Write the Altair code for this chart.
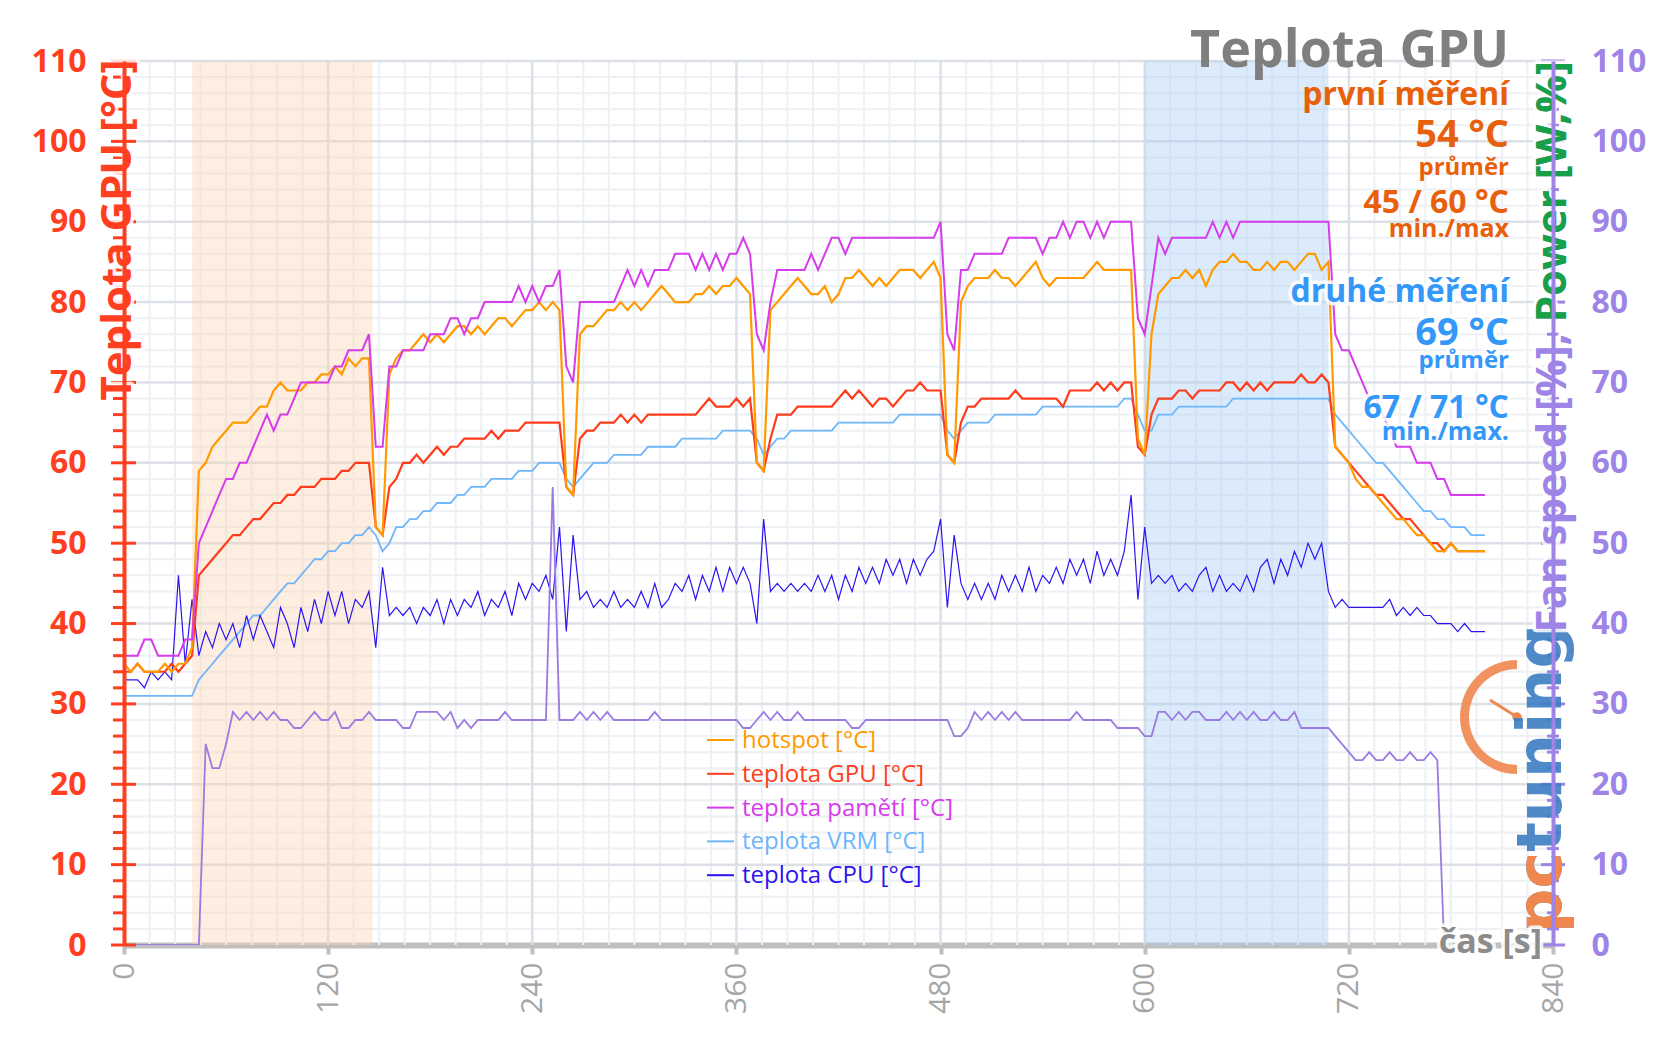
import altair as alt
import pandas as pd

W, H = 1429, 884
FONT = "Open Sans"

# ---------------- data (sampled every 4 s) ----------------
hotspot = [
    35, 34, 35, 34, 34, 34, 35, 34, 35, 35,
    37, 59, 60, 62, 63, 64, 65, 65, 65, 66,
    67, 67, 69, 70, 69, 69, 69, 70, 70, 71,
    71, 72, 71, 73, 72, 73, 73, 52, 51, 71,
    73, 74, 74, 75, 76, 75, 76, 75, 76, 77,
    77, 76, 77, 76, 77, 78, 78, 77, 78, 79,
    79, 80, 79, 80, 79, 57, 56, 76, 77, 77,
    78, 79, 79, 80, 79, 80, 79, 80, 81, 82,
    81, 80, 80, 80, 81, 81, 82, 81, 82, 82,
    83, 82, 81, 60, 59, 79, 80, 81, 82, 83,
    82, 81, 81, 82, 80, 81, 83, 83, 84, 83,
    82, 83, 82, 83, 84, 84, 84, 83, 84, 85,
    83, 61, 60, 80, 82, 83, 83, 83, 84, 83,
    83, 82, 83, 84, 85, 83, 82, 83, 83, 83,
    83, 83, 84, 85, 84, 84, 84, 84, 84, 63,
    61, 76, 81, 82, 83, 83, 84, 83, 84, 82,
    84, 85, 85, 86, 85, 85, 84, 84, 85, 84,
    85, 85, 84, 85, 86, 86, 84, 85, 62, 61,
    60, 58, 57, 57, 56, 55, 54, 53, 53, 52,
    51, 51, 50, 49, 49, 50, 49, 49, 49, 49,
    49,
]
gpu = [
    34, 34, 35, 34, 34, 34, 34, 35, 34, 35,
    36, 46, 47, 48, 49, 50, 51, 51, 52, 53,
    53, 54, 55, 55, 56, 56, 57, 57, 57, 58,
    58, 58, 59, 59, 60, 60, 60, 52, 51, 57,
    58, 60, 60, 61, 60, 61, 62, 61, 62, 62,
    63, 63, 63, 63, 64, 63, 64, 64, 64, 65,
    65, 65, 65, 65, 65, 57, 56, 63, 64, 64,
    65, 65, 65, 66, 65, 66, 65, 66, 66, 66,
    66, 66, 66, 66, 66, 67, 68, 67, 67, 67,
    68, 67, 68, 60, 59, 63, 66, 66, 66, 67,
    67, 67, 67, 67, 67, 68, 69, 68, 69, 68,
    67, 68, 68, 67, 68, 69, 69, 70, 69, 69,
    69, 61, 60, 65, 67, 67, 68, 68, 68, 68,
    68, 69, 68, 68, 68, 68, 68, 68, 67, 69,
    69, 69, 69, 70, 69, 70, 69, 70, 70, 62,
    61, 66, 68, 68, 68, 69, 69, 68, 69, 69,
    69, 69, 70, 70, 69, 70, 69, 70, 69, 70,
    70, 70, 70, 71, 70, 70, 71, 70, 62, 61,
    60, 59, 58, 57, 56, 56, 55, 54, 53, 53,
    52, 51, 50, 50, 49, 50, 49, 49, 49, 49,
    49,
]
memory = [
    36, 36, 36, 38, 38, 36, 36, 36, 36, 38,
    38, 50, 52, 54, 56, 58, 58, 60, 60, 62,
    64, 66, 64, 66, 66, 68, 70, 70, 70, 70,
    70, 72, 72, 74, 74, 74, 76, 62, 62, 72,
    72, 74, 74, 74, 74, 76, 76, 76, 78, 78,
    76, 78, 78, 80, 80, 80, 80, 80, 82, 80,
    82, 80, 82, 82, 84, 72, 70, 80, 80, 80,
    80, 80, 80, 82, 84, 82, 84, 82, 84, 84,
    84, 86, 86, 86, 84, 86, 84, 86, 84, 86,
    86, 88, 86, 76, 74, 80, 84, 84, 84, 84,
    84, 86, 84, 86, 88, 88, 86, 88, 88, 88,
    88, 88, 88, 88, 88, 88, 88, 88, 88, 88,
    90, 76, 74, 84, 84, 86, 86, 86, 86, 86,
    88, 88, 88, 88, 88, 86, 88, 88, 90, 88,
    90, 90, 88, 90, 88, 90, 90, 90, 90, 78,
    76, 82, 88, 86, 88, 88, 88, 88, 88, 88,
    90, 88, 90, 88, 90, 90, 90, 90, 90, 90,
    90, 90, 90, 90, 90, 90, 90, 90, 76, 74,
    74, 72, 70, 68, 68, 66, 64, 62, 62, 62,
    60, 60, 60, 58, 58, 56, 56, 56, 56, 56,
    56,
]
vrm = [
    31, 31, 31, 31, 31, 31, 31, 31, 31, 31,
    31, 33, 34, 35, 36, 37, 38, 39, 40, 41,
    41, 42, 43, 44, 45, 45, 46, 47, 48, 48,
    49, 49, 50, 50, 51, 51, 52, 51, 49, 50,
    52, 52, 53, 53, 54, 54, 55, 55, 55, 56,
    56, 57, 57, 57, 58, 58, 58, 58, 59, 59,
    59, 60, 60, 60, 60, 58, 57, 58, 59, 60,
    60, 60, 61, 61, 61, 61, 61, 62, 62, 62,
    62, 62, 63, 63, 63, 63, 63, 63, 64, 64,
    64, 64, 64, 63, 61, 62, 63, 63, 64, 64,
    64, 64, 64, 64, 64, 65, 65, 65, 65, 65,
    65, 65, 65, 65, 66, 66, 66, 66, 66, 66,
    66, 64, 63, 64, 65, 65, 65, 65, 66, 66,
    66, 66, 66, 66, 66, 67, 67, 67, 67, 67,
    67, 67, 67, 67, 67, 67, 67, 68, 68, 66,
    64, 64, 66, 66, 66, 67, 67, 67, 67, 67,
    67, 67, 67, 68, 68, 68, 68, 68, 68, 68,
    68, 68, 68, 68, 68, 68, 68, 68, 66, 65,
    64, 63, 62, 61, 60, 60, 59, 58, 57, 56,
    55, 54, 54, 53, 53, 52, 52, 52, 51, 51,
    51,
]
cpu = [
    33, 33, 33, 32, 34, 33, 34, 33, 46, 35,
    43, 36, 39, 37, 40, 38, 40, 37, 41, 38,
    41, 39, 37, 42, 40, 37, 42, 39, 43, 40,
    44, 41, 44, 40, 43, 42, 44, 37, 47, 41,
    42, 41, 42, 40, 42, 41, 43, 40, 43, 41,
    43, 42, 44, 41, 43, 42, 44, 41, 45, 43,
    45, 44, 46, 43, 52, 39, 51, 43, 44, 42,
    43, 42, 44, 42, 43, 42, 44, 42, 45, 42,
    43, 45, 44, 46, 43, 46, 44, 47, 44, 47,
    45, 47, 45, 40, 53, 44, 45, 44, 45, 44,
    45, 44, 46, 44, 46, 43, 46, 44, 47, 45,
    47, 45, 48, 46, 48, 45, 48, 46, 48, 49,
    53, 42, 51, 45, 43, 45, 43, 45, 43, 46,
    44, 46, 44, 47, 44, 46, 45, 47, 45, 48,
    46, 48, 45, 49, 46, 48, 46, 49, 56, 43,
    52, 45, 46, 45, 46, 44, 45, 44, 46, 47,
    44, 46, 44, 45, 44, 46, 44, 47, 48, 45,
    48, 46, 49, 47, 50, 48, 50, 44, 42, 43,
    42, 42, 42, 42, 42, 42, 43, 41, 42, 41,
    42, 41, 41, 40, 40, 40, 39, 40, 39, 39,
    39,
]
fan = [
    0, 0, 0, 0, 0, 0, 0, 0, 0, 0,
    0, 0, 25, 22, 22, 25, 29, 28, 29, 28,
    29, 28, 29, 28, 28, 27, 27, 28, 29, 28,
    28, 29, 27, 27, 28, 28, 29, 28, 28, 28,
    28, 27, 27, 29, 29, 29, 29, 28, 29, 27,
    28, 27, 28, 28, 28, 28, 29, 28, 28, 28,
    28, 28, 28, 57, 28, 28, 28, 29, 28, 29,
    28, 29, 28, 28, 28, 28, 28, 28, 29, 28,
    28, 28, 28, 28, 28, 28, 28, 28, 28, 28,
    28, 27, 27, 28, 29, 28, 29, 28, 28, 29,
    28, 28, 28, 28, 28, 28, 28, 27, 27, 28,
    28, 28, 28, 28, 28, 28, 28, 28, 28, 28,
    28, 28, 26, 26, 27, 29, 28, 29, 28, 29,
    28, 29, 28, 28, 28, 28, 28, 28, 28, 28,
    29, 28, 28, 28, 28, 28, 27, 27, 27, 27,
    26, 26, 29, 29, 28, 29, 28, 29, 29, 28,
    28, 28, 29, 28, 29, 28, 29, 28, 28, 29,
    28, 28, 29, 27, 27, 27, 27, 27, 26, 25,
    24, 23, 23, 24, 23, 23, 24, 23, 23, 24,
    23, 23, 24, 23, 0,
]
SAMPLE_STEP = 4
t_temp = [i * SAMPLE_STEP for i in range(len(hotspot))]
t_fan = [i * SAMPLE_STEP for i in range(len(fan))]

band_start = [40, 600]
band_end = [146, 708]

x_ticks = [0, 120, 240, 360, 480, 600, 720, 840]
y_ticks = [0, 10, 20, 30, 40, 50, 60, 70, 80, 90, 100, 110]

legend_names = ["hotspot [°C]", "teplota GPU [°C]", "teplota pamětí [°C]",
                "teplota VRM [°C]", "teplota CPU [°C]"]

title_text = "Teplota GPU"
run1 = ["první měření", "54 °C", "průměr", "45 / 60 °C", "min./max"]
run2 = ["druhé měření", "69 °C", "průměr", "67 / 71 °C", "min./max."]

# ---------------- styles ----------------
C_HOT = "#FF9A00"
C_GPU = "#FF3D1C"
C_MEM = "#D63CEB"
C_VRM = "#6FB6FA"
C_CPU = "#2D14F0"
C_FAN = "#9A7BE0"
AX_RED = "#FF3F1F"
AX_PURPLE = "#9E84E6"
C_GREEN = "#16A048"
C_GRAY = "#7F7F7F"
ANN_ORANGE = "#E8600C"
ANN_BLUE = "#3498F8"
legend_colors = [C_HOT, C_GPU, C_MEM, C_VRM, C_CPU]

x_scale = alt.Scale(domain=[0, 840], nice=False, zero=False)
y_scale = alt.Scale(domain=[0, 110], nice=False, zero=False)
ONE = pd.DataFrame({"k": [0]})


def line_layer(times, vals, color, width, x_axis=None, y_axis=None):
    df = pd.DataFrame({"t": times, "v": vals})
    return alt.Chart(df).mark_line(color=color, strokeWidth=width, clip=True).encode(
        x=alt.X("t:Q", scale=x_scale, axis=x_axis),
        y=alt.Y("v:Q", scale=y_scale, axis=y_axis),
    )


def text_layers(txt, x, y, size, color, weight="bold", align="right",
                baseline="alphabetic", angle=0, glow=True, font=FONT, opacity=1.0):
    kw = dict(text=txt, fontSize=size, font=font, fontWeight=weight,
              align=align, baseline=baseline, angle=angle)
    out = []
    if glow:
        out.append(alt.Chart(ONE).mark_text(color="white", stroke="white", strokeWidth=7,
                                            strokeJoin="round", strokeOpacity=0.85, **kw)
                   .encode(x=alt.value(x), y=alt.value(y)))
    out.append(alt.Chart(ONE).mark_text(color=color, opacity=opacity, **kw)
               .encode(x=alt.value(x), y=alt.value(y)))
    return out


layers = []

# grid
vminor = [s for s in range(15, 840, 15) if s % 120]
vmajor = [s for s in range(120, 840, 120)]
hminor = [v for v in range(2, 111, 2) if v % 10]
hmajor = [v for v in range(10, 111, 10)]
layers.append(alt.Chart(pd.DataFrame({"x": vminor})).mark_rule(color="#EDF0F4", strokeWidth=2)
              .encode(x=alt.X("x:Q", scale=x_scale, axis=None)))
layers.append(alt.Chart(pd.DataFrame({"y": hminor})).mark_rule(color="#EDF0F4", strokeWidth=2)
              .encode(y=alt.Y("y:Q", scale=y_scale, axis=None)))
layers.append(alt.Chart(pd.DataFrame({"x": vmajor})).mark_rule(color="#DCE0E7", strokeWidth=2.5)
              .encode(x=alt.X("x:Q", scale=x_scale, axis=None)))
layers.append(alt.Chart(pd.DataFrame({"y": hmajor})).mark_rule(color="#DCE0E7", strokeWidth=2.5)
              .encode(y=alt.Y("y:Q", scale=y_scale, axis=None)))

# shaded bands
bands = pd.DataFrame({"s": band_start, "e": band_end, "c": ["#FAD4B4", "#A8CDF5"]})
layers.append(alt.Chart(bands).mark_rect(opacity=0.4).encode(
    x=alt.X("s:Q", scale=x_scale, axis=None), x2="e:Q",
    y=alt.value(0), y2=alt.value(H),
    fill=alt.Fill("c:N", scale=None)))

# lines
x_axis = alt.Axis(values=x_ticks, labelAngle=270, labelColor="#A6A6A6", labelFontSize=30,
                  labelFont=FONT, tickColor="#BFBFBF", tickWidth=4, tickSize=9,
                  domainColor="#BFBFBF", domainWidth=6, labelPadding=8, grid=False,
                  title=None, zindex=0)
y_left = alt.Axis(values=y_ticks, orient="left", labelColor=AX_RED, labelFontSize=32,
                  labelFontWeight="bold", labelFont=FONT, ticks=False, tickSize=0,
                  domainColor=AX_RED, domainWidth=4, labelPadding=38, grid=False,
                  title=None, zindex=1)
y_right = alt.Axis(values=y_ticks, orient="right", labelColor=AX_PURPLE, labelFontSize=32,
                   labelFontWeight="bold", labelFont=FONT, ticks=False, tickSize=0,
                   domainColor=AX_PURPLE, domainWidth=4, labelPadding=38, grid=False,
                   title=None, zindex=1)

layers.append(line_layer(t_temp, vrm, C_VRM, 1.8))
layers.append(line_layer(t_temp, cpu, C_CPU, 1.2))
layers.append(line_layer(t_fan, fan, C_FAN, 1.8, y_axis=y_right))
layers.append(line_layer(t_temp, gpu, C_GPU, 2.2, y_axis=y_left))
layers.append(line_layer(t_temp, hotspot, C_HOT, 2.2, x_axis=x_axis))
layers.append(line_layer(t_temp, memory, C_MEM, 2.0))

# axis ticks (left red, right purple)
minor_y = [v for v in range(0, 111, 2) if v % 10]
layers.append(alt.Chart(pd.DataFrame({"y": y_ticks})).mark_rule(color=AX_RED, strokeWidth=3)
              .encode(y=alt.Y("y:Q", scale=y_scale, axis=None), x=alt.value(-13), x2=alt.value(12)))
layers.append(alt.Chart(pd.DataFrame({"y": minor_y})).mark_rule(color=AX_RED, strokeWidth=3)
              .encode(y=alt.Y("y:Q", scale=y_scale, axis=None), x=alt.value(-11), x2=alt.value(0)))
layers.append(alt.Chart(pd.DataFrame({"y": y_ticks})).mark_rule(color=AX_PURPLE, strokeWidth=3)
              .encode(y=alt.Y("y:Q", scale=y_scale, axis=None), x=alt.value(W - 12), x2=alt.value(W + 12)))
layers.append(alt.Chart(pd.DataFrame({"y": minor_y})).mark_rule(color=AX_PURPLE, strokeWidth=3)
              .encode(y=alt.Y("y:Q", scale=y_scale, axis=None), x=alt.value(W - 6), x2=alt.value(W + 6)))

# legend
for i, (name, col) in enumerate(zip(legend_names, legend_colors)):
    yy = 679 + 33.8 * i
    layers.append(alt.Chart(ONE).mark_rule(color=col, strokeWidth=2)
                  .encode(x=alt.value(583), x2=alt.value(610), y=alt.value(yy)))
    layers.append(alt.Chart(ONE).mark_text(text=name, color=col, fontSize=24, font=FONT,
                                           align="left", baseline="alphabetic")
                  .encode(x=alt.value(618), y=alt.value(yy + 8)))

# logo (behind the right-hand axis title)
LOGO_O = "#F0874F"
LOGO_B = "#3C7DC3"
layers.append(alt.Chart(ONE).mark_arc(color=LOGO_O, opacity=0.9).encode(
    x=alt.value(1393), y=alt.value(656), theta=alt.value(3.1416), theta2=alt.value(6.2832),
    radius=alt.value(57), radius2=alt.value(48)))
layers.append(alt.Chart(ONE).mark_rule(color=LOGO_O, strokeWidth=3).encode(
    x=alt.value(1366), x2=alt.value(1393), y=alt.value(639), y2=alt.value(656)))
layers.append(alt.Chart(ONE).mark_circle(color=LOGO_O, size=90, opacity=1).encode(
    x=alt.value(1393), y=alt.value(656)))
layers += text_layers("pctuning", 1437, 872, 62, LOGO_B, align="left", angle=270,
                      glow=False, font="DejaVu Sans", opacity=0.9)
layers += text_layers("pc", 1437, 872, 62, LOGO_O, align="left", angle=270,
                      glow=False, font="DejaVu Sans", opacity=1.0)

# axis titles
layers += text_layers("Teplota GPU [°C]", -6, 169, 42, AX_RED, align="center",
                      baseline="middle", angle=270)
layers += text_layers("Fan speed [%], Power [W,%]", W, 0, 42, AX_PURPLE, align="right",
                      baseline="middle", angle=270)
layers += text_layers("Power [W,%]", W, 0, 42, C_GREEN, align="right",
                      baseline="middle", angle=270, glow=False)
layers += text_layers("čas [s]", 1418, 882, 34, "#8C8C8C", align="right", baseline="middle")

# top-right annotations
RX = 1385
layers += text_layers(title_text, RX, 6, 52, C_GRAY, glow=False)
sizes = [32, 38, 24, 32, 25]
ys1 = [44, 86, 114, 152, 176]
ys2 = [241, 284, 307, 357, 379]
for txt, s, yy in zip(run1, sizes, ys1):
    layers += text_layers(txt, RX, yy, s, ANN_ORANGE, glow=False)
for txt, s, yy in zip(run2, sizes, ys2):
    layers += text_layers(txt, RX, yy, s, ANN_BLUE)

chart = alt.layer(*layers).resolve_axis(x="independent", y="independent").properties(
    width=W, height=H,
    autosize=alt.AutoSizeParams(type="none"),
    padding={"left": 116, "top": 53, "right": 95, "bottom": 90},
    background="white",
).configure_view(stroke=None)

chart.save("out.html", embed_options={"renderer": "svg", "actions": False})
